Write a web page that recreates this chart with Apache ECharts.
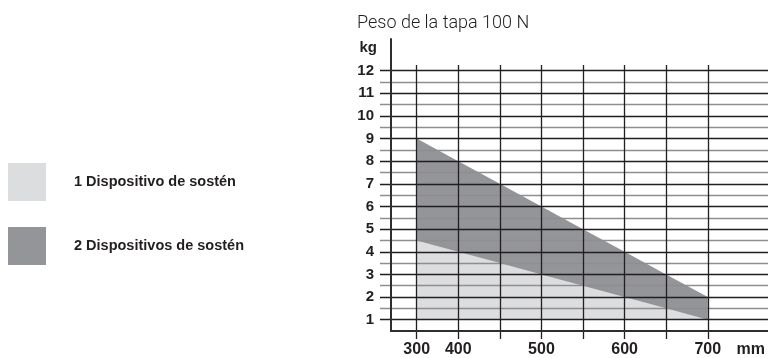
<!DOCTYPE html>
<html><head><meta charset="utf-8">
<script src="https://cdn.jsdelivr.net/npm/echarts@6/dist/echarts.min.js"></script>
<style>html,body{margin:0;padding:0;background:#fff}#c{width:768px;height:358px}</style>
</head><body><div id="c"></div>
<script>
// ---- data ----
const chartTitle = 'Peso de la tapa 100 N';
const xCategories = ['300', '400', '450', '500', '550', '600', '650', '700'];
const xTickLabels = ['300', '400', '', '500', '', '600', '', '700'];
const xUnit = 'mm';
const yUnit = 'kg';
const seriesNames = ['1 Dispositivo de sostén', '2 Dispositivos de sostén'];
const oneDevice = [4.5, 4, 3.5, 3, 2.5, 2, 1.5, 1];
const twoDevices = [9, 8, 7, 6, 5, 4, 3, 2];

// ---- styling ----
const BLACK = '#231f20', GRAY = '#8e8e8e', AXIS = '#2e2e2e';
const LIGHT = '#dcdddf', DARK = '#939598';
const BOLD = '"Liberation Sans", Arial, sans-serif';

const idx = xCategories.map((_, i) => i);
const labelIdx = idx.filter(i => xTickLabels[i] !== '');
const toPairs = arr => arr.map((v, i) => [i, v]);

const chart = echarts.init(document.getElementById('c'), null, {renderer: 'canvas'});
chart.setOption({
  animation: false,
  title: {
    text: chartTitle, left: 352, top: 9,
    textStyle: {fontFamily: 'Roboto, sans-serif', fontWeight: 300, fontSize: 18, color: BLACK}
  },
  legend: {
    orient: 'vertical', left: 8, top: 163, padding: 0, itemWidth: 38, itemHeight: 38, itemGap: 26,
    icon: 'rect', selectedMode: false,
    textStyle: {fontFamily: BOLD, fontWeight: 'bold', fontSize: 14.5, color: BLACK, padding: [0, 0, 0, 23]},
    data: [
      {name: seriesNames[0], itemStyle: {color: LIGHT}},
      {name: seriesNames[1], itemStyle: {color: DARK}}
    ]
  },
  grid: [
    {left: 380, right: 0, top: 65, bottom: 26},
    {left: 391, right: 0, top: 39, bottom: 26}
  ],
  xAxis: [
    {
      gridIndex: 0, type: 'value', min: -0.883, max: 8.448, z: 3, position: 'bottom',
      axisLine: {show: false},
      axisTick: {show: true, customValues: idx, length: 8, lineStyle: {color: BLACK, width: 1.3}},
      axisLabel: {customValues: labelIdx, formatter: v => xTickLabels[Math.round(v)], margin: 11,
        fontFamily: BOLD, fontWeight: 'bold', fontSize: 16, color: BLACK},
      splitLine: {show: true, lineStyle: {color: BLACK, width: 1.3}}
    },
    {
      gridIndex: 1, type: 'value', min: 0, max: 1, z: 4, position: 'bottom',
      name: xUnit, nameLocation: 'end', nameGap: -31,
      nameTextStyle: {fontFamily: BOLD, fontWeight: 'bold', fontSize: 16, color: BLACK, align: 'left', verticalAlign: 'top', padding: [11, 0, 0, 0]},
      axisLine: {show: true, onZero: false, lineStyle: {color: AXIS, width: 2}},
      axisTick: {show: false}, axisLabel: {show: false}, splitLine: {show: false}
    }
  ],
  yAxis: [
    {
      gridIndex: 0, type: 'value', min: 0.5, max: 12.25, interval: 0.5, z: 3, position: 'left',
      axisLine: {show: false}, axisTick: {show: false},
      axisLabel: {margin: 6, formatter: v => (Number.isInteger(v) ? String(v) : ''),
        fontFamily: BOLD, fontWeight: 'bold', fontSize: 15, color: BLACK},
      splitLine: {show: true, showMinLine: false, showMaxLine: false, lineStyle: {color: [BLACK, GRAY], width: 1.3}}
    },
    {
      gridIndex: 1, type: 'value', min: 0, max: 1, z: 4, position: 'left',
      name: yUnit, nameLocation: 'end', nameGap: -9,
      nameTextStyle: {fontFamily: BOLD, fontWeight: 'bold', fontSize: 15, color: BLACK, align: 'right', verticalAlign: 'middle', padding: [0, 14, 0, 0]},
      axisLine: {show: true, onZero: false, lineStyle: {color: AXIS, width: 2}},
      axisTick: {show: false}, axisLabel: {show: false}, splitLine: {show: false}
    }
  ],
  series: [
    {
      type: 'line', name: seriesNames[1], xAxisIndex: 0, yAxisIndex: 0, z: 1,
      data: toPairs(twoDevices), symbol: 'none', showSymbol: false,
      lineStyle: {width: 0}, itemStyle: {color: DARK},
      areaStyle: {color: DARK, opacity: 1, origin: 1}
    },
    {
      type: 'line', name: seriesNames[0], xAxisIndex: 0, yAxisIndex: 0, z: 1,
      data: toPairs(oneDevice), symbol: 'none', showSymbol: false,
      lineStyle: {width: 0}, itemStyle: {color: LIGHT},
      areaStyle: {color: LIGHT, opacity: 1, origin: 1}
    },
    {
      // empty series that only binds the frame axes of the second grid
      type: 'line', name: 'frame', xAxisIndex: 1, yAxisIndex: 1, data: [], silent: true
    }
  ]
});
</script></body></html>
